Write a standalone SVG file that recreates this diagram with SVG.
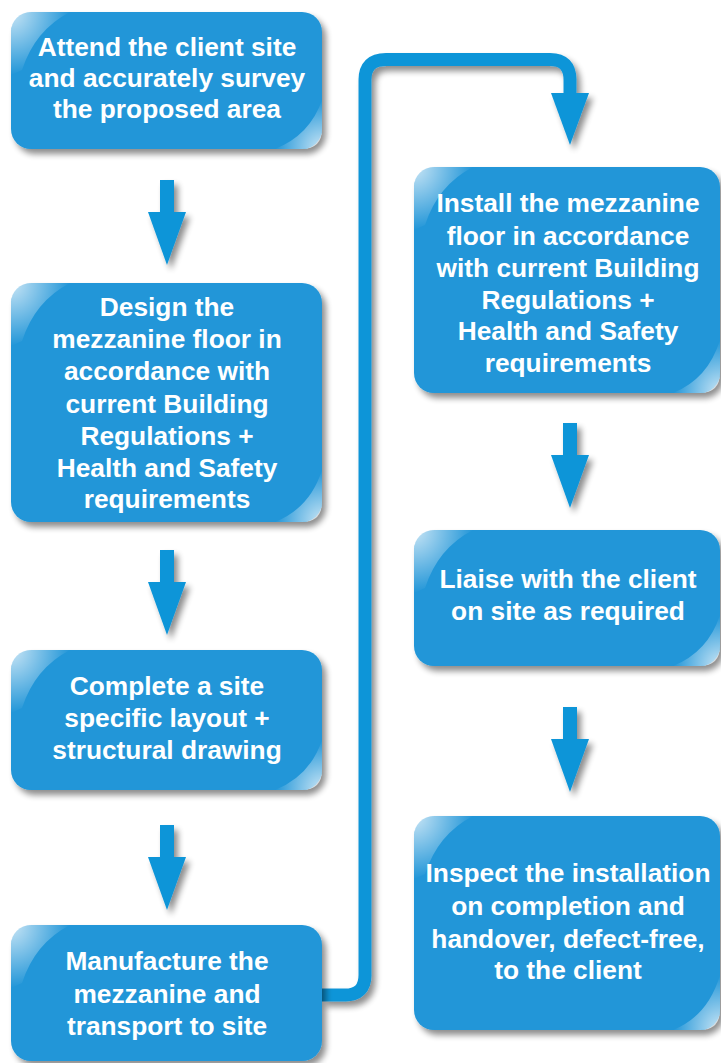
<svg xmlns="http://www.w3.org/2000/svg" width="721" height="1063" viewBox="0 0 721 1063">
<defs>
<filter id="sh" x="-10%" y="-10%" width="130%" height="130%">
<feGaussianBlur in="SourceAlpha" stdDeviation="3"/>
<feOffset dx="4" dy="5" result="b"/>
<feComponentTransfer><feFuncA type="linear" slope="0.45"/></feComponentTransfer>
<feMerge><feMergeNode/><feMergeNode in="SourceGraphic"/></feMerge>
</filter>
<radialGradient id="hlTL" cx="0" cy="0" r="1">
<stop offset="0" stop-color="#fff" stop-opacity="0.95"/>
<stop offset="1" stop-color="#fff" stop-opacity="0"/>
</radialGradient>
<radialGradient id="hlBR" cx="1" cy="1" r="1">
<stop offset="0" stop-color="#fff" stop-opacity="0.95"/>
<stop offset="1" stop-color="#fff" stop-opacity="0"/>
</radialGradient>
</defs>
<style>
.box{fill:#2196d8;}
.t{font-family:"Liberation Sans",Arial,Helvetica,sans-serif;font-weight:bold;font-size:26.3px;fill:#fff;text-anchor:middle;}
.arr{fill:#0f95d8;}
.con{fill:none;stroke:#0f95d8;stroke-width:13;}
</style>

<g id="connectors" filter="url(#sh)">
<path class="arr" d="M160,180 H174 V212 H186 L167,265 L148,212 H160 Z"/>
<path class="arr" d="M160,550 H174 V582 H186 L167,635 L148,582 H160 Z"/>
<path class="arr" d="M160,825 H174 V857 H186 L167,910 L148,857 H160 Z"/>
<path class="arr" d="M563,423 H577 V455 H589 L570,508 L551,455 H563 Z"/>
<path class="arr" d="M563,707 H577 V739 H589 L570,792 L551,739 H563 Z"/>
<path class="con" d="M322,995 H345 Q365,995 365,975 V80 Q365,59.5 386,59.5 H550 Q570,59.5 570,80 V95"/>
<path class="arr" d="M551,93 H589 L570,145 Z"/>
</g>

<g id="n1">
<rect class="box" x="11" y="12" width="311" height="137" rx="20" filter="url(#sh)"/>
<path d="M11,32 Q11,12 31,12 H70 Q35,30 22,70 L11,75 Z" fill="url(#hlTL)" opacity="0.8"/>
<path d="M322,100 V129 Q322,149 302,149 H275 Q310,135 322,100 Z" fill="url(#hlBR)" opacity="0.8"/>
<text class="t" x="167" y="56">Attend the client site</text>
<text class="t" x="167" y="87">and accurately survey</text>
<text class="t" x="167" y="118">the proposed area</text>
</g>

<g id="n2">
<rect class="box" x="11" y="283" width="311" height="239" rx="20" filter="url(#sh)"/>
<path d="M11,303 Q11,283 31,283 H70 Q35,301 22,341 L11,346 Z" fill="url(#hlTL)" opacity="0.8"/>
<path d="M322,470 V502 Q322,522 302,522 H275 Q310,508 322,470 Z" fill="url(#hlBR)" opacity="0.8"/>
<text class="t" x="167" y="316">Design the</text>
<text class="t" x="167" y="348">mezzanine floor in</text>
<text class="t" x="167" y="380">accordance with</text>
<text class="t" x="167" y="413">current Building</text>
<text class="t" x="167" y="445">Regulations +</text>
<text class="t" x="167" y="477">Health and Safety</text>
<text class="t" x="167" y="508">requirements</text>
</g>

<g id="n3">
<rect class="box" x="11" y="650" width="311" height="140" rx="20" filter="url(#sh)"/>
<path d="M11,670 Q11,650 31,650 H70 Q35,668 22,708 L11,713 Z" fill="url(#hlTL)" opacity="0.8"/>
<path d="M322,740 V770 Q322,790 302,790 H275 Q310,776 322,740 Z" fill="url(#hlBR)" opacity="0.8"/>
<text class="t" x="167" y="695">Complete a site</text>
<text class="t" x="167" y="727">specific layout +</text>
<text class="t" x="167" y="759">structural drawing</text>
</g>

<g id="n4">
<rect class="box" x="11" y="925" width="311" height="136" rx="20" filter="url(#sh)"/>
<path d="M11,945 Q11,925 31,925 H70 Q35,943 22,983 L11,988 Z" fill="url(#hlTL)" opacity="0.8"/>
<text class="t" x="167" y="970">Manufacture the</text>
<text class="t" x="167" y="1003">mezzanine and</text>
<text class="t" x="167" y="1035">transport to site</text>
</g>

<g id="n5">
<rect class="box" x="414" y="167" width="306" height="226" rx="20" filter="url(#sh)"/>
<path d="M414,187 Q414,167 434,167 H473 Q438,185 425,225 L414,230 Z" fill="url(#hlTL)" opacity="0.8"/>
<path d="M720,340 V373 Q720,393 700,393 H673 Q708,379 720,340 Z" fill="url(#hlBR)" opacity="0.8"/>
<text class="t" x="568" y="212">Install the mezzanine</text>
<text class="t" x="568" y="245">floor in accordance</text>
<text class="t" x="568" y="277">with current Building</text>
<text class="t" x="568" y="309">Regulations +</text>
<text class="t" x="568" y="340">Health and Safety</text>
<text class="t" x="568" y="372">requirements</text>
</g>

<g id="n6">
<rect class="box" x="414" y="530" width="306" height="136" rx="20" filter="url(#sh)"/>
<path d="M414,550 Q414,530 434,530 H473 Q438,548 425,588 L414,593 Z" fill="url(#hlTL)" opacity="0.8"/>
<path d="M720,615 V646 Q720,666 700,666 H673 Q708,652 720,615 Z" fill="url(#hlBR)" opacity="0.8"/>
<text class="t" x="568" y="588">Liaise with the client</text>
<text class="t" x="568" y="620">on site as required</text>
</g>

<g id="n7">
<rect class="box" x="414" y="816" width="306" height="214" rx="20" filter="url(#sh)"/>
<path d="M414,836 Q414,816 434,816 H473 Q438,834 425,874 L414,879 Z" fill="url(#hlTL)" opacity="0.8"/>
<path d="M720,975 V1010 Q720,1030 700,1030 H673 Q708,1016 720,975 Z" fill="url(#hlBR)" opacity="0.8"/>
<text class="t" x="568" y="882">Inspect the installation</text>
<text class="t" x="568" y="915">on completion and</text>
<text class="t" x="568" y="948">handover, defect-free,</text>
<text class="t" x="568" y="979">to the client</text>
</g>
</svg>
